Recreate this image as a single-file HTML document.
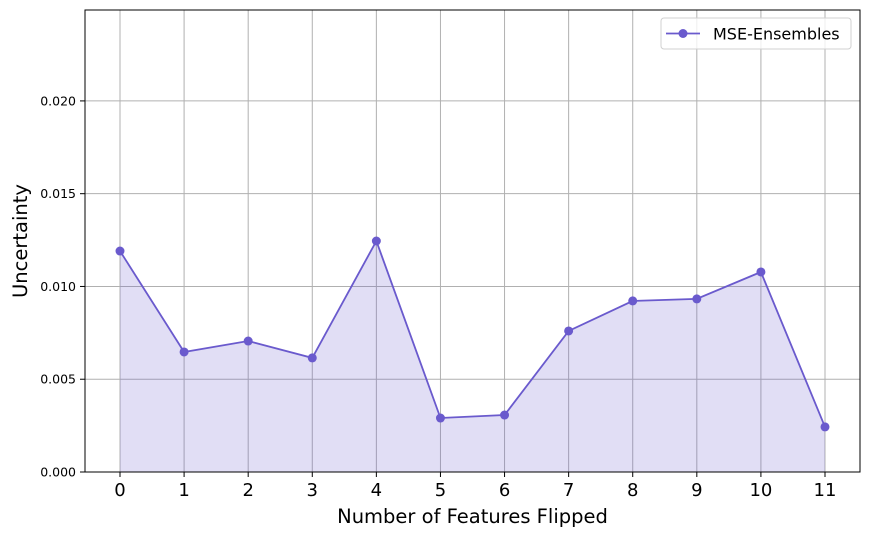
<!DOCTYPE html>
<html><head><meta charset="utf-8"><style>
body{margin:0;background:#fff;}
svg{display:block;font-family:"DejaVu Sans","Liberation Sans",sans-serif;}
</style></head><body>
<svg id="chart" width="869" height="537" viewBox="0 0 869 537"></svg>
<script>
const categories=[0,1,2,3,4,5,6,7,8,9,10,11];
const mseEnsembles=[0.01191,0.00647,0.00706,0.00615,0.01245,0.00291,0.00307,0.0076,0.00922,0.00933,0.01078,0.00243];
const yTicks=[0,0.005,0.010,0.015,0.020];
const yTickLabels=["0.000","0.005","0.010","0.015","0.020"];
const seriesName="MSE-Ensembles";

const NS="http://www.w3.org/2000/svg";
const svg=document.getElementById('chart');
const L=85,R=860,T=10,B=472,yMax=0.0249;
const x=i=>120+(825-120)*(i-categories[0])/(categories[categories.length-1]-categories[0]);
const y=v=>B-(B-T)*v/yMax;
function el(tag,attrs,parent){const e=document.createElementNS(NS,tag);for(const k in attrs)e.setAttribute(k,attrs[k]);(parent||svg).appendChild(e);return e;}
const color="#6a5acd";
// grid
categories.forEach(c=>{const g=el('line',{x1:x(c),x2:x(c),y1:T,y2:B,stroke:'#b0b0b0','stroke-width':1});

});
yTicks.forEach(t=>{const g=el('line',{x1:L,x2:R,y1:y(t),y2:y(t),stroke:'#b0b0b0','stroke-width':1});

});
// area
let d=`M${x(categories[0])},${y(0)}`;
categories.forEach((c,i)=>{d+=` L${x(c)},${y(mseEnsembles[i])}`;});
d+=` L${x(categories[categories.length-1])},${y(0)} Z`;
const area=el('path',{d:d,fill:color,'fill-opacity':0.2,stroke:'none'});


const line=el('polyline',{points:categories.map((c,i)=>`${x(c)},${y(mseEnsembles[i])}`).join(' '),fill:'none',stroke:color,'stroke-width':1.8});


categories.forEach((c,i)=>{const p=el('circle',{cx:x(c),cy:y(mseEnsembles[i]),r:4.5,fill:color});

});
// axes frame
const frame=el('rect',{x:L,y:T,width:R-L,height:B-T,fill:'none',stroke:'#000','stroke-width':1});


// ticks
categories.forEach(c=>{el('line',{x1:x(c),x2:x(c),y1:B,y2:B+5,stroke:'#000'});
const t=el('text',{x:x(c),y:B+24,'text-anchor':'middle','font-size':18,fill:'#000'});t.textContent=c;

});
yTicks.forEach((v,i)=>{el('line',{x1:L-5,x2:L,y1:y(v),y2:y(v),stroke:'#000'});
const t=el('text',{x:L-9,y:y(v)+4.5,'text-anchor':'end','font-size':12.5,fill:'#000'});t.textContent=yTickLabels[i];

});
const xt=el('text',{x:(L+R)/2,y:523,'text-anchor':'middle','font-size':19.5,fill:'#000'});xt.textContent='Number of Features Flipped';


const yt=el('text',{x:0,y:0,'text-anchor':'middle','font-size':19.5,fill:'#000',transform:`translate(27,${(T+B)/2}) rotate(-90)`});yt.textContent='Uncertainty';


// legend
const lg=el('g',{});


el('rect',{x:661,y:18,width:190,height:31,rx:3,fill:'#fff','fill-opacity':0.8,stroke:'#d0d0d0'},lg);
el('line',{x1:666,x2:700,y1:33.5,y2:33.5,stroke:color,'stroke-width':1.8},lg);
el('circle',{cx:683,cy:33.5,r:4.5,fill:color},lg);
const lt=el('text',{x:713,y:39.5,'font-size':16,fill:'#000'},lg);lt.textContent=seriesName;


</script>
</body></html>
